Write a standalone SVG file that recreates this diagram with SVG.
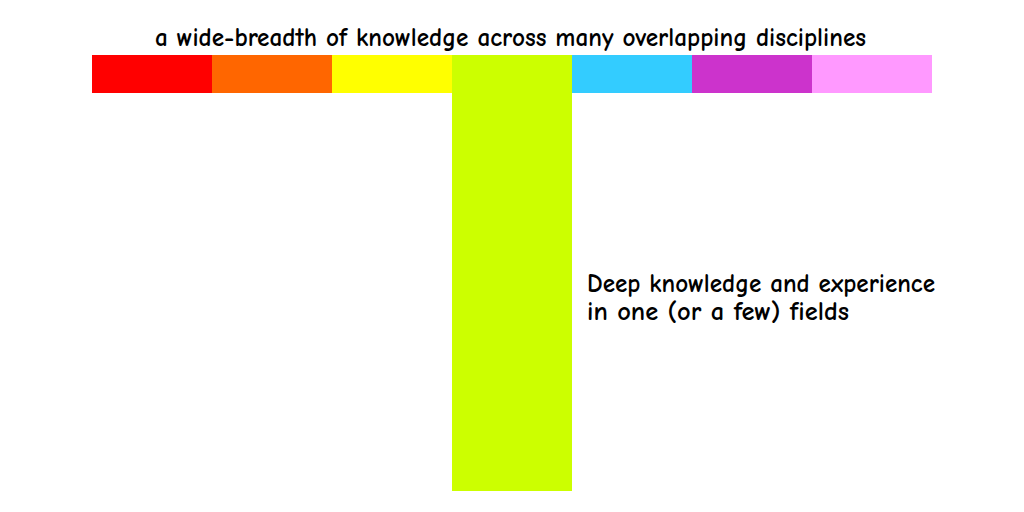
<svg xmlns="http://www.w3.org/2000/svg" width="1024" height="512" viewBox="0 0 1024 512">
<style>
text{font-family:"Comic Neue","Liberation Sans",sans-serif;fill:#000;font-size:26px;font-weight:700}
</style>
<rect width="1024" height="512" fill="#fff"/>
<g id="breadth-bar">
<rect x="92" y="55" width="120" height="38" fill="#FF0000"/>
<rect x="212" y="55" width="120" height="38" fill="#FF6600"/>
<rect x="332" y="55" width="120" height="38" fill="#FFFF00"/>
<rect x="572" y="55" width="120" height="38" fill="#33CCFF"/>
<rect x="692" y="55" width="120" height="38" fill="#CC33CC"/>
<rect x="812" y="55" width="120" height="38" fill="#FF99FF"/>
</g>
<g id="depth-bar">
<rect x="452" y="55" width="120" height="436" fill="#CCFF00"/>
</g>
<g id="labels">
<text x="155" y="46" textLength="711" lengthAdjust="spacingAndGlyphs">a wide-breadth of knowledge across many overlapping disciplines</text>
<text x="587" y="292" textLength="348" lengthAdjust="spacingAndGlyphs">Deep knowledge and experience</text>
<text x="587" y="320" textLength="262" lengthAdjust="spacingAndGlyphs">in one (or a few) fields</text>
</g>
</svg>
